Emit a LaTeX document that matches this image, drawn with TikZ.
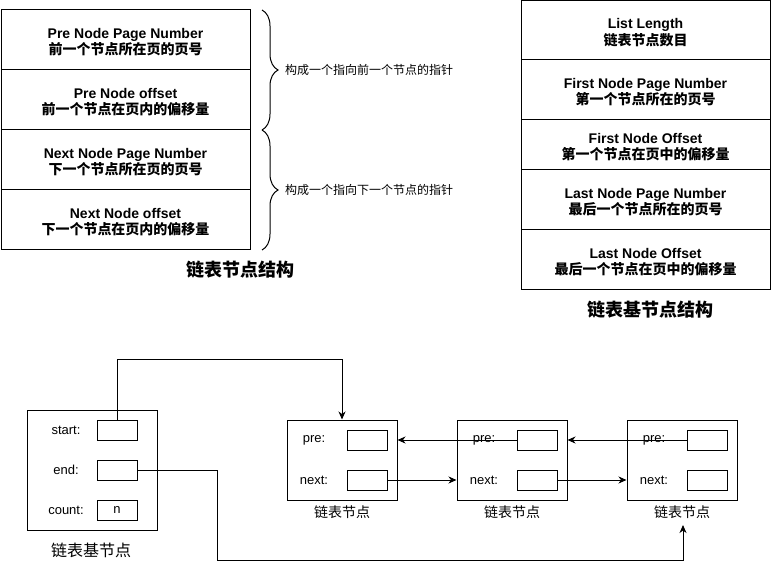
\documentclass[tikz,border=0pt]{standalone}
\usepackage{fontspec}
\setmainfont{Liberation Sans}
\newfontfamily\cjk{Noto Sans CJK SC}
\usetikzlibrary{arrows.meta,decorations.pathreplacing}
\newcommand{\tstrut}{\rule{0pt}{14.5pt}}
\begin{document}
\begin{tikzpicture}[x=1pt,y=-1pt,
  cell/.style={draw,line width=1pt,minimum width=249pt,inner sep=0pt,align=center,
    font=\fontsize{14}{16.5}\selectfont\bfseries},
  box/.style={draw,line width=1pt,inner sep=0pt},
  field/.style={draw,line width=1pt,minimum width=40pt,minimum height=20pt,inner sep=0pt,
    font=\fontsize{13}{15}\selectfont},
  lbl/.style={inner sep=0pt,font=\fontsize{13}{15}\selectfont},
  ncap/.style={inner sep=0pt,font=\fontsize{14}{16}\selectfont\cjk},
  title/.style={inner sep=0pt,font=\fontsize{18}{20}\selectfont\bfseries\cjk},
  note/.style={inner sep=0pt,anchor=west,font=\fontsize{12}{14}\selectfont\cjk},
  brc/.style={decorate,decoration={brace,amplitude=16pt},line width=1pt},
  arr/.style={-{Stealth[length=8pt,width=7pt,inset=2.5pt]},line width=1pt},
]
\useasboundingbox (0,0) rectangle (771,569);

% left table
\node[cell,minimum height=60pt] (l1) at (125.5,40) {\tstrut Pre Node Page Number\\{\cjk 前一个节点所在页的页号}};
\node[cell,minimum height=60pt] (l2) at (125.5,100) {\tstrut Pre Node offset\\{\cjk 前一个节点在页内的偏移量}};
\node[cell,minimum height=60pt] (l3) at (125.5,160) {\tstrut Next Node Page Number\\{\cjk 下一个节点所在页的页号}};
\node[cell,minimum height=60pt] (l4) at (125.5,220) {\tstrut Next Node offset\\{\cjk 下一个节点在页内的偏移量}};
\node[title] (t1) at (240,270) {链表节点结构};

% braces
\coordinate (b1s) at (262,10);
\coordinate (b1e) at (262,130);
\coordinate (b2e) at (262,250);
\draw[brc] (b1s) -- (b1e);
\draw[brc] (b1e) -- (b2e);
\node[note] (n1txt) at (285,70) {构成一个指向前一个节点的指针};
\node[note] (n2txt) at (285,190) {构成一个指向下一个节点的指针};

% right table
\node[cell,minimum height=59pt] (r1) at (645.5,30.5) {\tstrut List Length\\{\cjk 链表节点数目}};
\node[cell,minimum height=60pt] (r2) at (645.5,90) {\tstrut First Node Page Number\\{\cjk 第一个节点所在的页号}};
\node[cell,minimum height=50pt] (r3) at (645.5,145) {\tstrut First Node Offset\\{\cjk 第一个节点在页中的偏移量}};
\node[cell,minimum height=60pt] (r4) at (645.5,200) {\tstrut Last Node Page Number\\{\cjk 最后一个节点所在的页号}};
\node[cell,minimum height=60pt] (r5) at (645.5,260) {\tstrut Last Node Offset\\{\cjk 最后一个节点在页中的偏移量}};
\node[title] (t2) at (650,310) {链表基节点结构};

% base node
\node[box,minimum width=130pt,minimum height=120pt] (base) at (92,470) {};
\node[field] (startb) at (117,430) {};
\node[field] (endb) at (117,470) {};
\node[field] (countb) at (117,510) {n};
\node[lbl] (startl) at (66,430) {start:};
\node[lbl] (endl) at (66,470) {end:};
\node[lbl] (countl) at (66,510) {count:};
\node[inner sep=0pt,font=\fontsize{16}{18}\selectfont\cjk] (basecap) at (91,550) {链表基节点};

% list nodes
\foreach \i/\x in {1/342,2/512,3/682}{
  \node[box,minimum width=110pt,minimum height=80pt] (n\i) at (\x,460) {};
  \node[field] (p\i) at (\x+25,440) {};
  \node[field] (q\i) at (\x+25,480) {};
  \node[lbl] (pl\i) at (\x-28,440) {pre:};
  \node[lbl] (ql\i) at (\x-28,480) {next:};
  \node[ncap] (c\i) at (\x,512) {链表节点};
}
\coordinate (endtip) at (683,525);

% connectors
\draw[arr] (startb.north) -- ++(0,-60) -| (n1.north);
\draw[arr] (endb.east) -| (217,560) -| (endtip);
\draw[arr] (p2.west) -- (p2.west -| n1.east);
\draw[arr] (p3.west) -- (p3.west -| n2.east);
\draw[arr] (q1.east) -- (q1.east -| n2.west);
\draw[arr] (q2.east) -- (q2.east -| n3.west);
\end{tikzpicture}
\end{document}
